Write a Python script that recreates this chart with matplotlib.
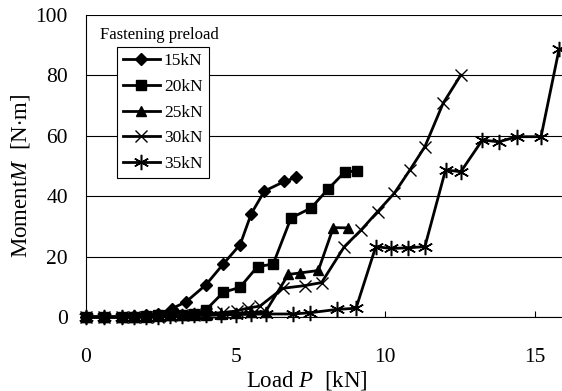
import matplotlib
matplotlib.use('Agg')
import matplotlib.pyplot as plt

plt.rcParams['font.family'] = 'Liberation Serif'
plt.rcParams['mathtext.fontset'] = 'custom'
plt.rcParams['mathtext.it'] = 'Liberation Serif:italic'
plt.rcParams['mathtext.rm'] = 'Liberation Serif'

# load P [kN] vs moment M [N*m] for each fastening preload
x15 = [0, 0.6, 1.2, 1.6, 2.0, 2.4, 2.87, 3.34, 4.0, 4.59, 5.15, 5.52, 5.96, 6.63, 7.02]
y15 = [0, 0, 0, 0.3, 0.5, 1.0, 2.8, 5.0, 10.6, 17.6, 24.0, 34.2, 41.7, 44.9, 46.2]

x20 = [0, 0.6, 1.2, 1.6, 2.0, 2.4, 2.8, 3.2, 3.6, 4.0, 4.59, 5.14, 5.73, 6.25, 6.85, 7.52, 8.09, 8.65, 9.06]
y20 = [0, 0, 0, 0, 0.3, 0.5, 0.5, 0.8, 1.0, 2.3, 8.2, 9.8, 16.7, 17.5, 32.8, 36.1, 42.4, 48.1, 48.3]

x25 = [0, 0.6, 1.2, 1.6, 2.0, 2.4, 2.8, 3.2, 3.6, 4.0, 4.5, 5.0, 5.5, 6.0, 6.76, 7.16, 7.76, 8.26, 8.76]
y25 = [0, 0, 0, 0, 0, 0.3, 0.5, 0.5, 0.8, 0.8, 1.0, 1.2, 1.5, 1.8, 14.1, 14.6, 15.4, 29.6, 29.5]

x30 = [0, 0.6, 1.2, 1.6, 2.0, 2.4, 2.8, 3.2, 3.6, 4.0, 4.58, 5.03, 5.42, 5.81, 6.57, 7.31, 7.87,
       8.63, 9.19, 9.74, 10.30, 10.82, 11.32, 11.93, 12.52]
y30 = [0, 0, 0, 0, 0, 0, 0.3, 0.5, 0.8, 1.0, 1.5, 2.0, 3.0, 3.6, 9.5, 10.4, 11.4,
       23.3, 28.8, 34.9, 41.0, 48.7, 56.4, 70.8, 80.1]

x35 = [0, 0.6, 1.2, 1.6, 2.0, 2.4, 2.8, 3.2, 3.6, 4.0, 4.5, 5.0, 5.5, 6.0, 6.92, 7.48, 8.37, 9.02,
       9.68, 10.19, 10.76, 11.32, 12.01, 12.52, 13.24, 13.79, 14.39, 15.20, 15.80]
y35 = [0, 0, 0, 0, 0, 0, 0.2, 0.3, 0.5, 0.5, 0.7, 0.8, 0.9, 1.0, 1.0, 1.4, 2.5, 2.9,
       23.3, 22.7, 22.9, 23.3, 48.7, 48.1, 58.6, 58.0, 59.7, 59.7, 88.6]

labels = ['15kN', '20kN', '25kN', '30kN', '35kN']

fig = plt.figure(figsize=(5.62, 3.91), dpi=100)
ax = fig.add_axes([86 / 562, 1 - 317 / 391, 1 - 86 / 562, (317 - 15) / 391])

ax.plot(x15, y15, color='black', lw=2, marker='D', ms=6.5, label=labels[0], clip_on=False)
ax.plot(x20, y20, color='black', lw=2, marker='s', ms=6.5, label=labels[1], clip_on=False)
ax.plot(x25, y25, color='black', lw=2, marker='^', ms=7.5, label=labels[2], clip_on=False)
ax.plot(x30, y30, color='black', lw=2, marker='x', ms=9, mew=1, label=labels[3], clip_on=False)
ax.plot(x35, y35, color='black', lw=2, marker=(6, 2, 0), ms=11, mew=1.1, label=labels[4], clip_on=False)

ax.set_xlim(0, 15.9)
ax.set_ylim(0, 100)
ax.set_xticks([0, 5, 10, 15])
ax.set_yticks([0, 20, 40, 60, 80, 100])
ax.grid(axis='y', color='black', lw=0.8)
ax.set_axisbelow(True)
ax.spines['right'].set_visible(False)
ax.spines['top'].set_visible(False)
ax.tick_params(axis='x', direction='in', length=4, pad=22, labelsize=15.5)
ax.tick_params(axis='y', length=0, pad=13, labelsize=15.5)

fig.text(307 / 562, 1 - 381 / 391, 'Load $P$  [kN]', fontsize=16.5, ha='center', va='center')
fig.text(20 / 562, 1 - 176 / 391, 'Moment$M$  [N$\\cdot$m]', fontsize=16.5, ha='center', va='center', rotation=90)

fig.text(100 / 562, 1 - 35 / 391, 'Fastening preload', fontsize=12, ha='left', va='center')
leg = ax.legend(loc='upper left', bbox_to_anchor=((117 - 86) / 476, (317 - 47) / 302),
                borderaxespad=0, frameon=True, fancybox=False, edgecolor='black', framealpha=1,
                fontsize=12.5, handlelength=2.1, borderpad=0.35, labelspacing=0.55, handletextpad=0.25)
leg.get_frame().set_linewidth(0.8)

fig.savefig('out.png', dpi=100)
